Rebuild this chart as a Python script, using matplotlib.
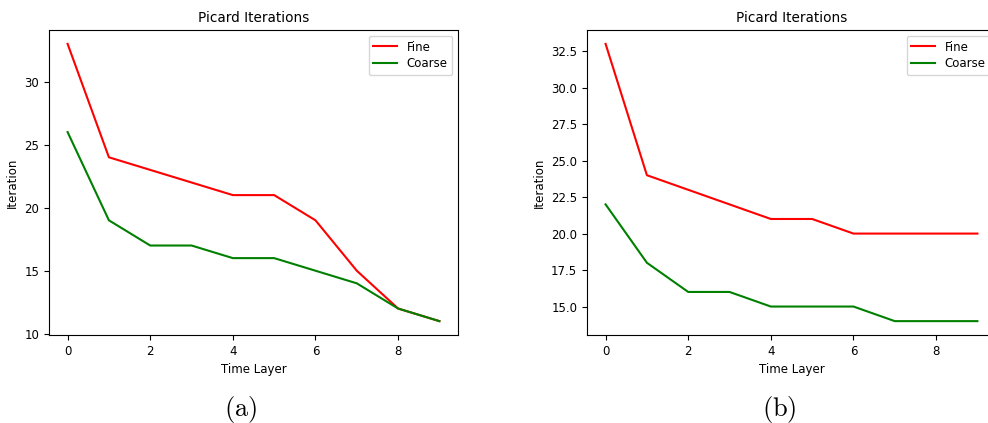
import numpy as np
import matplotlib
matplotlib.use('Agg')
import matplotlib.pyplot as plt

plt.rcParams['mathtext.fontset'] = 'cm'

time_layer = list(range(10))
fine_a = [33, 24, 23, 22, 21, 21, 19, 15, 12, 11]
coarse_a = [26, 19, 17, 17, 16, 16, 15, 14, 12, 11]
fine_b = [33, 24, 23, 22, 21, 21, 20, 20, 20, 20]
coarse_b = [22, 18, 16, 16, 15, 15, 15, 14, 14, 14]
captions = ['(a)', '(b)']

W, H = 988, 423
fig = plt.figure(figsize=(W / 100, H / 100), dpi=100)

# axes boxes in pixels: left, top, width, height (right one runs past the edge)
boxes = [(49, 30, 409, 305), (587, 30, 409, 305)]
series = [(fine_a, coarse_a), (fine_b, coarse_b)]
caption_x = [241, 779]

for (x0, y0, w, h), (fine, coarse), cap, cx in zip(boxes, series, captions, caption_x):
    ax = fig.add_axes([x0 / W, 1 - (y0 + h) / H, w / W, h / H])
    ax.plot(time_layer, fine, color='red', label='Fine')
    ax.plot(time_layer, coarse, color='green', label='Coarse')
    ax.set_title('Picard Iterations', fontsize=9.8)
    ax.set_xlabel('Time Layer', fontsize=8.5)
    ax.set_ylabel('Iteration', fontsize=8.5)
    ax.tick_params(labelsize=8.5)
    ax.legend(loc='upper right', fontsize=8.5, labelspacing=0.3)
    fig.text(cx / W, 1 - 409 / H, r'$\mathrm{' + cap + '}$', fontsize=19,
             ha='center', va='center')

fig.savefig('out.png', dpi=100)
